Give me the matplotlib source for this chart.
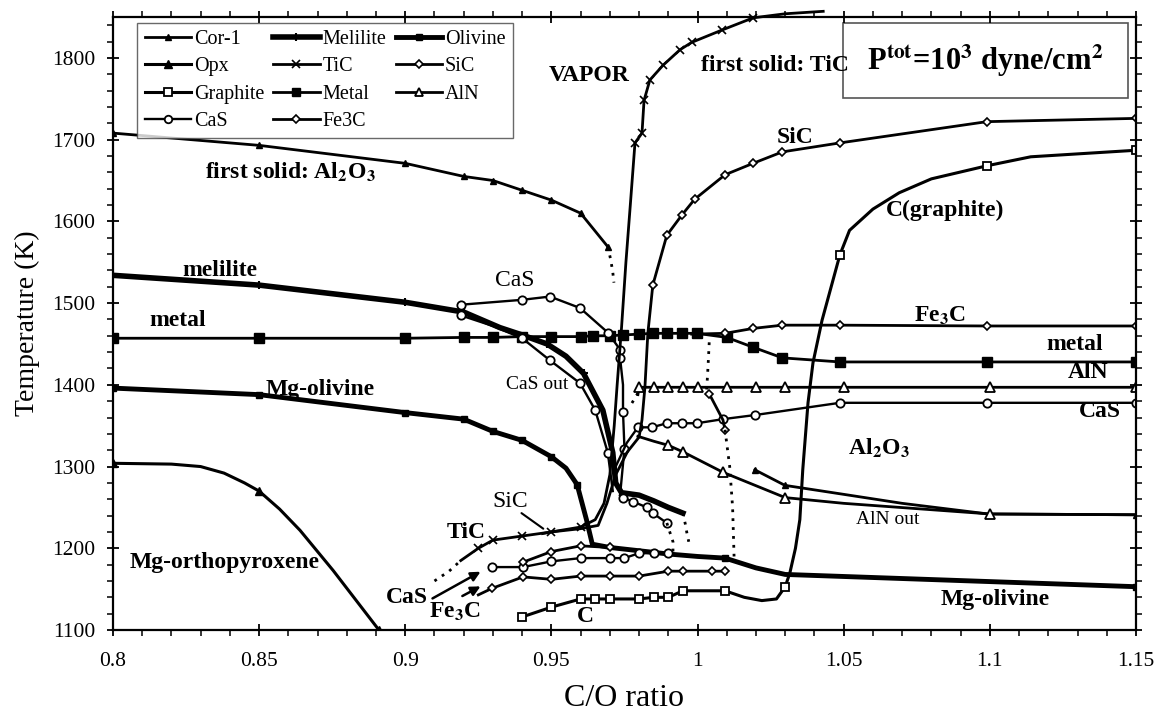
import matplotlib
matplotlib.use('Agg')
import matplotlib.pyplot as plt
from matplotlib.lines import Line2D
from matplotlib.patches import Rectangle

plt.rcParams['font.family'] = ['Liberation Serif', 'DejaVu Serif']
plt.rcParams['mathtext.fontset'] = 'stix'

# ---- data (C/O ratio, temperature K) ----
cor1_x = [0.8, 0.85, 0.9, 0.92, 0.93, 0.94, 0.95, 0.96, 0.9693]
cor1_y = [1708, 1693, 1671, 1655, 1650, 1638, 1626, 1610, 1569]
cor1_dot_x = [0.9693, 0.9703, 0.971, 0.9714]
cor1_dot_y = [1569, 1553, 1538, 1525]
cor1b_x = [1.0196, 1.0299, 1.05, 1.07, 1.0994, 1.15]
cor1b_y = [1296, 1277, 1266, 1255, 1242, 1241]

opx_x = [0.8, 0.82, 0.83, 0.838, 0.845, 0.85, 0.857, 0.864, 0.8753, 0.891]
opx_y = [1304, 1303, 1300, 1292, 1280, 1270, 1248, 1222, 1173, 1100]

graph_x = [0.94, 0.95, 0.96, 0.965, 0.97, 0.98, 0.985, 0.99, 0.995, 1.0094, 1.016, 1.022,
           1.027, 1.03, 1.0316, 1.0335, 1.035, 1.036, 1.0378, 1.0395, 1.0426, 1.0487,
           1.052, 1.06, 1.069, 1.08, 1.099, 1.114, 1.15]
graph_y = [1116, 1128, 1138, 1138, 1138, 1138, 1140, 1140, 1148, 1148, 1140, 1136,
           1138, 1153, 1170, 1200, 1235, 1296, 1378, 1427, 1479, 1559,
           1589, 1615, 1635, 1652, 1668, 1679, 1687]
graph_mk = [0, 1, 2, 3, 4, 5, 6, 7, 8, 9, 13, 21, 26, 28]

cas_top_x = [0.919, 0.94, 0.9495, 0.9598, 0.9693, 0.9735, 0.9735, 0.9745, 0.9745, 0.975, 0.9735]
cas_top_y = [1498, 1504, 1508, 1494, 1464, 1443, 1433, 1400, 1367, 1322, 1265]
cas_top_mk = [0, 1, 2, 3, 4, 5, 6, 8, 9]
cas_left_x = [0.919, 0.93, 0.94, 0.9495, 0.9598, 0.965, 0.9693, 0.971]
cas_left_y = [1485, 1472, 1457, 1430, 1402, 1369, 1317, 1270]
cas_r2_x = [0.9735, 0.9745, 0.978, 0.9827, 0.9847, 0.9895]
cas_r2_y = [1265, 1262, 1257, 1250, 1243, 1231]
cas_r2_dot_x = [0.9895, 0.9905, 0.9916, 0.9916]
cas_r2_dot_y = [1231, 1220, 1208, 1196]
cas_mid_x = [0.972, 0.9758, 0.9796, 0.9844, 0.9895, 0.9947, 0.9998, 1.0087, 1.0196, 1.0487, 1.099, 1.15]
cas_mid_y = [1300, 1329, 1348, 1348, 1353, 1353, 1353, 1358, 1363, 1378, 1378, 1378]
cas_mid_mk = [2, 3, 4, 5, 6, 7, 8, 9, 10, 11]
cas_low_x = [0.9297, 0.9403, 0.95, 0.96, 0.97, 0.975, 0.98, 0.985, 0.99]
cas_low_y = [1177, 1177, 1184, 1188, 1188, 1188, 1194, 1194, 1194]

mel_x = [0.8, 0.85, 0.9, 0.92, 0.9324, 0.94, 0.9485, 0.955, 0.961, 0.9676, 0.971, 0.972,
         0.974, 0.98, 0.985, 0.99, 0.995]
mel_y = [1534, 1522, 1501, 1489, 1470, 1461, 1450, 1435, 1414, 1369, 1317, 1280,
         1268, 1265, 1258, 1250, 1243]
mel_dot_x = [0.995, 0.9958, 0.9964, 0.997]
mel_dot_y = [1243, 1230, 1218, 1208]

tic_x = [0.919, 0.925, 0.93, 0.94, 0.95, 0.96, 0.965, 0.968, 0.970, 0.9715, 0.9725, 0.974,
         0.9755, 0.977, 0.9786, 0.981, 0.9817, 0.9837, 0.9882, 0.994, 0.998, 1.0083,
         1.019, 1.03, 1.043]
tic_y = [1185, 1200, 1210, 1215, 1220, 1226, 1235, 1255, 1290, 1350, 1400, 1470,
         1550, 1620, 1696, 1708, 1748, 1773, 1791, 1810, 1819, 1834,
         1849, 1854, 1857]
tic_mk = [1, 2, 3, 4, 5, 14, 15, 16, 17, 18, 19, 20, 21, 22]
tic_dot_x = [0.91, 0.915, 0.919]
tic_dot_y = [1160, 1172, 1185]

metal_x = [0.8, 0.85, 0.9, 0.92, 0.93, 0.94, 0.95, 0.96, 0.9642, 0.97, 0.9745, 0.98, 0.9847,
           0.9895, 0.9947, 0.9998, 1.01, 1.019, 1.029, 1.0487, 1.099, 1.15]
metal_y = [1457, 1457, 1457, 1458, 1458, 1459, 1459, 1459, 1460, 1460, 1461, 1462, 1463,
           1463, 1463, 1463, 1458, 1446, 1433, 1428, 1428, 1428]

fe3c_up_x = [0.998, 1.0094, 1.019, 1.029, 1.0487, 1.099, 1.15]
fe3c_up_y = [1462, 1463, 1469, 1473, 1473, 1472, 1472]
fe3c_mid_x = [1.004, 1.0087, 1.0094]
fe3c_mid_y = [1389, 1357, 1345]
fe3c_dot1_x = [1.004, 1.0037, 1.0034, 1.003]
fe3c_dot1_y = [1452, 1430, 1410, 1389]
fe3c_dot2_x = [1.0094, 1.011, 1.012, 1.0125]
fe3c_dot2_y = [1345, 1300, 1250, 1190]
fe3c_low_x = [0.925, 0.9297, 0.9403, 0.95, 0.96, 0.97, 0.98, 0.99, 0.995, 1.005, 1.0094]
fe3c_low_y = [1143, 1151, 1165, 1162, 1166, 1166, 1166, 1172, 1172, 1172, 1172]

oliv_x = [0.8, 0.85, 0.9, 0.92, 0.93, 0.94, 0.95, 0.955, 0.9588, 0.962, 0.964, 0.97, 0.98,
          0.99, 1.0, 1.0094, 1.02, 1.03, 1.15]
oliv_y = [1396, 1388, 1366, 1358, 1343, 1332, 1312, 1298, 1278, 1235, 1205, 1201, 1197,
          1193, 1190, 1188, 1176, 1168, 1153]
oliv_mk = [0, 1, 2, 3, 4, 5, 6, 8, 15, 18]

sic_x = [1.15, 1.099, 1.0487, 1.029, 1.019, 1.0094, 0.999, 0.9947, 0.9895, 0.9847, 0.983,
         0.982, 0.981, 0.980, 0.976, 0.972, 0.969, 0.966, 0.96, 0.95, 0.947]
sic_y = [1726, 1722, 1696, 1685, 1671, 1657, 1627, 1608, 1583, 1522, 1463,
         1397, 1357, 1336, 1318, 1290, 1255, 1228, 1224, 1220, 1218]
sic_mk = [0, 1, 2, 3, 4, 5, 6, 7, 8, 9]
sic_low_x = [0.9403, 0.95, 0.96, 0.97]
sic_low_y = [1183, 1196, 1203, 1201]

aln_up_x = [0.9796, 0.98, 0.985, 0.99, 0.995, 1.0, 1.01, 1.02, 1.03, 1.05, 1.1, 1.15]
aln_up_y = [1388, 1397, 1397, 1397, 1397, 1397, 1397, 1397, 1397, 1397, 1397, 1397]
aln_dot_x = [0.9796, 0.9783, 0.9769]
aln_dot_y = [1390, 1382, 1374]
aln_low_x = [0.9796, 0.985, 0.99, 0.995, 1.0087, 1.03, 1.05, 1.1, 1.15]
aln_low_y = [1337, 1331, 1326, 1318, 1293, 1262, 1255, 1242, 1241]

legend_names = ['Cor-1', 'Opx', 'Graphite', 'CaS', 'Melilite', 'TiC',
                'Metal', 'Fe3C', 'Olivine', 'SiC', 'AlN']

k = 'black'
st = {
    'Cor-1': dict(lw=2, marker='^', ms=5, mfc=k),
    'Opx': dict(lw=2.2, marker='^', ms=6, mfc=k),
    'Graphite': dict(lw=2.2, marker='s', ms=6, mfc='white', mew=1.3),
    'CaS': dict(lw=1.7, marker='o', ms=6, mfc='white', mew=1.3),
    'Melilite': dict(lw=4, marker='+', ms=6, mew=1.5),
    'TiC': dict(lw=2, marker='x', ms=6, mew=1.2),
    'Metal': dict(lw=2, marker='s', ms=7, mfc=k),
    'Fe3C': dict(lw=2, marker='D', ms=4, mfc='white', mew=1.2),
    'Olivine': dict(lw=3.5, marker='s', ms=5, mfc=k),
    'SiC': dict(lw=2, marker='D', ms=4, mfc='white', mew=1.2),
    'AlN': dict(lw=2, marker='^', ms=7, mfc='white', mew=1.3),
}

fig = plt.figure(figsize=(11.62, 7.22), dpi=100)
ax = fig.add_axes([0.0972, 0.1274, 0.8804, 0.849])


def curve(x, y, name, mk=None, **kw):
    s = dict(st[name])
    s.update(kw)
    ax.plot(x, y, color=k, markevery=mk, **s)


def dots(x, y):
    ax.plot(x, y, color=k, lw=2, ls=(0, (1, 2.2)))


curve(opx_x, opx_y, 'Opx', mk=[0, 5, 9])
curve(oliv_x, oliv_y, 'Olivine', mk=oliv_mk)
curve(metal_x, metal_y, 'Metal', mk=list(range(len(metal_x))))
curve(mel_x, mel_y, 'Melilite', mk=[0, 1, 2, 3, 6, 8])
curve(cor1_x, cor1_y, 'Cor-1')
dots(cor1_dot_x, cor1_dot_y)
curve(cor1b_x, cor1b_y, 'Cor-1', mk=[0, 1, 5])
curve(aln_up_x, aln_up_y, 'AlN', mk=list(range(1, len(aln_up_x))))
dots(aln_dot_x, aln_dot_y)
curve(aln_low_x, aln_low_y, 'AlN', mk=[2, 3, 4, 5, 7])
curve(graph_x, graph_y, 'Graphite', mk=graph_mk)
curve(cas_top_x, cas_top_y, 'CaS', mk=cas_top_mk)
curve(cas_left_x, cas_left_y, 'CaS', mk=[0, 2, 3, 4, 5, 6])
curve(cas_r2_x, cas_r2_y, 'CaS', mk=[1, 2, 3, 4, 5])
dots(cas_r2_dot_x, cas_r2_dot_y)
curve(cas_mid_x, cas_mid_y, 'CaS', mk=cas_mid_mk)
curve(cas_low_x, cas_low_y, 'CaS')
dots(mel_dot_x, mel_dot_y)
curve(tic_x, tic_y, 'TiC', mk=tic_mk, clip_on=False)
dots(tic_dot_x, tic_dot_y)
curve(fe3c_up_x, fe3c_up_y, 'Fe3C', mk=[1, 2, 3, 4, 5, 6])
curve(fe3c_mid_x, fe3c_mid_y, 'Fe3C', mk=[0, 2])
dots(fe3c_dot1_x, fe3c_dot1_y)
dots(fe3c_dot2_x, fe3c_dot2_y)
curve(fe3c_low_x, fe3c_low_y, 'Fe3C', mk=list(range(1, len(fe3c_low_x))))
curve(sic_x, sic_y, 'SiC', mk=sic_mk)
curve(sic_low_x, sic_low_y, 'SiC')

# ---- labels on the chart ----
bold = dict(fontsize=17, fontweight='bold', ha='center', va='center')
plain = dict(fontsize=17, ha='center', va='center')
small = dict(fontsize=14, ha='center', va='center')
ax.text(0.963, 1779, 'VAPOR', **bold)
ax.text(1.0265, 1791, 'first solid: TiC', **bold)
ax.text(0.8606, 1660, r'first solid: Al$_\mathbf{2}$O$_\mathbf{3}$', **bold)
ax.text(1.0333, 1703, 'SiC', **bold)
ax.text(1.0846, 1614, 'C(graphite)', **bold)
ax.text(0.8366, 1540, 'melilite', **bold)
ax.text(0.9375, 1528, 'CaS', **plain)
ax.text(0.822, 1479, 'metal', **bold)
ax.text(1.083, 1485, r'Fe$_\mathbf{3}$C', **bold)
ax.text(1.129, 1449, 'metal', **bold)
ax.text(1.1336, 1415, 'AlN', **bold)
ax.text(1.1377, 1367, 'CaS', **bold)
ax.text(0.8708, 1394, 'Mg-olivine', **bold)
ax.text(0.945, 1400, 'CaS out', **small)
ax.text(1.062, 1322, r'Al$_\mathbf{2}$O$_\mathbf{3}$', **bold)
ax.text(1.065, 1235, 'AlN out', **small)
ax.text(0.8383, 1182, 'Mg-orthopyroxene', **bold)
ax.text(0.9358, 1257, 'SiC', **plain)
ax.text(0.921, 1219, 'TiC', **bold)
ax.text(0.9006, 1140, 'CaS', **bold)
ax.text(0.917, 1122, r'Fe$_\mathbf{3}$C', **bold)
ax.text(0.9615, 1116, 'C', **bold)
ax.text(1.1017, 1137, 'Mg-olivine', **bold)

arrow = dict(arrowstyle='-|>', color=k, lw=1.8, mutation_scale=14)
ax.annotate('', xy=(0.9266, 1173), xytext=(0.9085, 1137), arrowprops=arrow)
ax.annotate('', xy=(0.9266, 1155), xytext=(0.9187, 1140), arrowprops=arrow)
ax.annotate('', xy=(0.948, 1222), xytext=(0.939, 1245),
            arrowprops=dict(arrowstyle='-', color=k, lw=1.5))

# pressure box
ax.add_patch(Rectangle((0.714, 0.868), 0.2786, 0.122, transform=ax.transAxes,
                       fill=False, ec='#555555', lw=1.2))
ax.text(0.853, 0.929, r'P$^{\mathbf{tot}}$=10$^{\mathbf{3}}$ dyne/cm$^{\mathbf{2}}$',
        transform=ax.transAxes, fontsize=22, fontweight='bold', ha='center', va='center')

# ---- axes ----
ax.set_xlim(0.8, 1.15)
ax.set_ylim(1100, 1850)
ax.set_xticks([0.8, 0.85, 0.9, 0.95, 1.0, 1.05, 1.1, 1.15])
ax.set_xticklabels(['0.8', '0.85', '0.9', '0.95', '1', '1.05', '1.1', '1.15'])
ax.set_yticks([1100, 1200, 1300, 1400, 1500, 1600, 1700, 1800])
ax.set_xticks([0.8 + 0.01 * i for i in range(36)], minor=True)
ax.set_yticks(list(range(1100, 1851, 20)), minor=True)
ax.tick_params(which='major', direction='inout', length=9, width=1.3, top=True, right=True,
               labelsize=15.5)
ax.tick_params(axis='x', which='major', pad=11)
ax.tick_params(axis='y', which='major', pad=8)
ax.tick_params(which='minor', direction='out', length=4, width=1.1, top=True, right=True)
for sp in ax.spines.values():
    sp.set_linewidth(1.6)
ax.set_xlabel('C/O ratio', fontsize=23, labelpad=10)
ax.set_ylabel('Temperature (K)', fontsize=20, labelpad=9)

handles = [Line2D([], [], color=k, **st[n]) for n in legend_names]
leg = ax.legend(handles, legend_names, ncol=3, loc='upper left',
                bbox_to_anchor=(0.024, 0.99), fontsize=14.5, frameon=True, fancybox=False,
                edgecolor='#444444', handlelength=2.3, handletextpad=0.15,
                columnspacing=0.45, labelspacing=0.4, borderpad=0.35, borderaxespad=0,
                markerscale=0.9)
leg.get_frame().set_linewidth(1.0)

fig.savefig('out.png', dpi=100)
